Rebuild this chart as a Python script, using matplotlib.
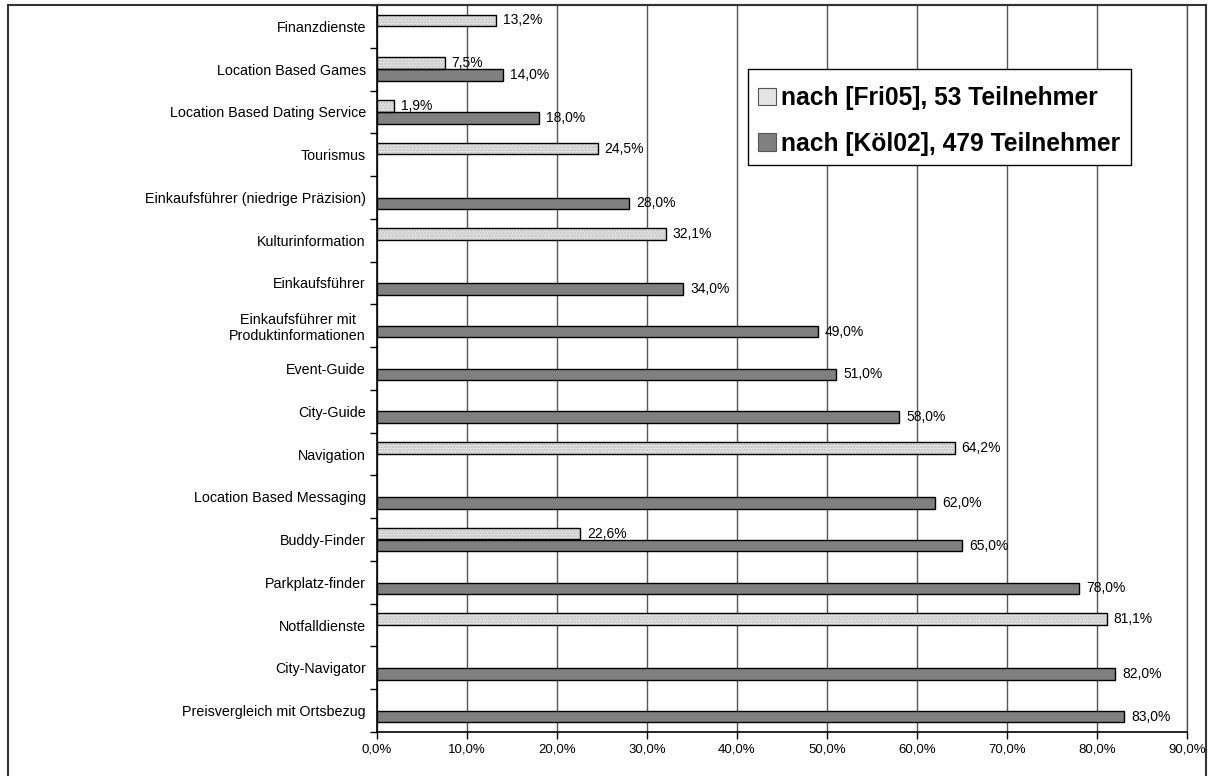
import numpy as np
import matplotlib
matplotlib.use("Agg")
import matplotlib.pyplot as plt
from matplotlib.patches import Rectangle, Patch
from matplotlib.ticker import FixedLocator

plt.rcParams['font.family'] = ['Liberation Sans', 'DejaVu Sans']

categories = [
    "Finanzdienste",
    "Location Based Games",
    "Location Based Dating Service",
    "Tourismus",
    "Einkaufsführer (niedrige Präzision)",
    "Kulturinformation",
    "Einkaufsführer",
    "Einkaufsführer mit\nProduktinformationen",
    "Event-Guide",
    "City-Guide",
    "Navigation",
    "Location Based Messaging",
    "Buddy-Finder",
    "Parkplatz-finder",
    "Notfalldienste",
    "City-Navigator",
    "Preisvergleich mit Ortsbezug",
]
# Share of respondents (%); None = not surveyed in that study
fri05 = [13.2, 7.5, 1.9, 24.5, None, 32.1, None, None, None, None,
         64.2, None, 22.6, None, 81.1, None, None]
koel02 = [None, 14.0, 18.0, None, 28.0, None, 34.0, 49.0, 51.0, 58.0,
          None, 62.0, 65.0, 78.0, None, 82.0, 83.0]
series_names = ["nach [Fri05], 53 Teilnehmer", "nach [Köl02], 479 Teilnehmer"]
x_ticks = [0, 10, 20, 30, 40, 50, 60, 70, 80, 90]

light = "#e4e4e4"
dark = "#808080"
grid_col = "#555555"

W, H = 1209, 776
fig = plt.figure(figsize=(W / 100, H / 100), dpi=100)
ax_l, ax_r, ax_t, ax_b = 377, 1187, 5, 732
ax = fig.add_axes([ax_l / W, (H - ax_b) / H, (ax_r - ax_l) / W, (ax_b - ax_t) / H])

n = len(categories)
pos = np.arange(n)
h = 0.27
off = 0.14


def fmt(v):
    return f"{v:.1f}".replace(".", ",") + "%"


def draw_series(values, offset, color, hatched):
    for i, v in enumerate(values):
        if v is None:
            continue
        y = pos[i] + offset
        if hatched:
            ax.barh(y, v, height=h, color=color, edgecolor="#bcbcbc",
                    hatch="......", linewidth=0, zorder=3)
            ax.barh(y, v, height=h, fill=False, edgecolor="black",
                    linewidth=1.0, zorder=4)
        else:
            ax.barh(y, v, height=h, color=color, edgecolor="black",
                    linewidth=1.0, zorder=3)
        ax.annotate(fmt(v), (v, y), xytext=(5, 0), textcoords="offset points",
                    ha="left", va="center", fontsize=10, color="black")


draw_series(fri05, -off, light, True)
draw_series(koel02, off, dark, False)

ax.set_xlim(0, 90)
ax.set_ylim(n - 0.5, -0.5)

ax.xaxis.set_major_locator(FixedLocator(x_ticks))
ax.xaxis.set_major_formatter(plt.FuncFormatter(lambda v, p: fmt(v)))
ax.tick_params(axis="x", direction="out", length=5, width=1, labelsize=9.5, pad=3)
ax.grid(axis="x", color=grid_col, linewidth=1, zorder=0)
ax.set_axisbelow(True)

ax.set_yticks(pos)
ax.set_yticklabels(categories, fontsize=10.3, multialignment="center")
ax.tick_params(axis="y", which="major", length=0, pad=8)
ax.set_yticks(np.arange(n + 1) - 0.5, minor=True)
ax.tick_params(axis="y", which="minor", direction="out", length=5, width=1)

for s in ["left", "bottom"]:
    ax.spines[s].set_color("black")
    ax.spines[s].set_linewidth(1.2)
ax.spines["right"].set_color(grid_col)
ax.spines["right"].set_linewidth(1)
ax.spines["top"].set_color("#333333")
ax.spines["top"].set_linewidth(1.5)


def px_to_axes(x, y):
    return (x - ax_l) / (ax_r - ax_l), (ax_b - y) / (ax_b - ax_t)


# legend box with tight horizontal padding
box_l, box_t, box_r, box_b = 748, 69, 1131, 165
bx0, by0 = px_to_axes(box_l, box_b)
bx1, by1 = px_to_axes(box_r, box_t)
ax.add_patch(Rectangle((bx0, by0), bx1 - bx0, by1 - by0, transform=ax.transAxes,
                       facecolor="white", edgecolor="black", linewidth=1,
                       zorder=9))

handles = [Patch(facecolor=light, edgecolor="#555555", linewidth=0.8),
           Patch(facecolor=dark, edgecolor="#555555", linewidth=0.8)]
leg = ax.legend(handles, series_names, loc="upper left",
                bbox_to_anchor=px_to_axes(box_l + 10, box_t + 17),
                prop={"weight": "bold", "size": 17.7},
                frameon=False,
                handlelength=0.72, handleheight=0.72, handletextpad=0.2,
                labelspacing=0.88, borderpad=0, borderaxespad=0)
leg.set_zorder(10)

# outer chart border
fig.patches.append(Rectangle((8 / W, -0.02), 1198 / W, 1.02 - 5 / H,
                             transform=fig.transFigure, fill=False,
                             edgecolor="#333333", linewidth=1.5))

fig.savefig("out.png", dpi=100, facecolor="white")
